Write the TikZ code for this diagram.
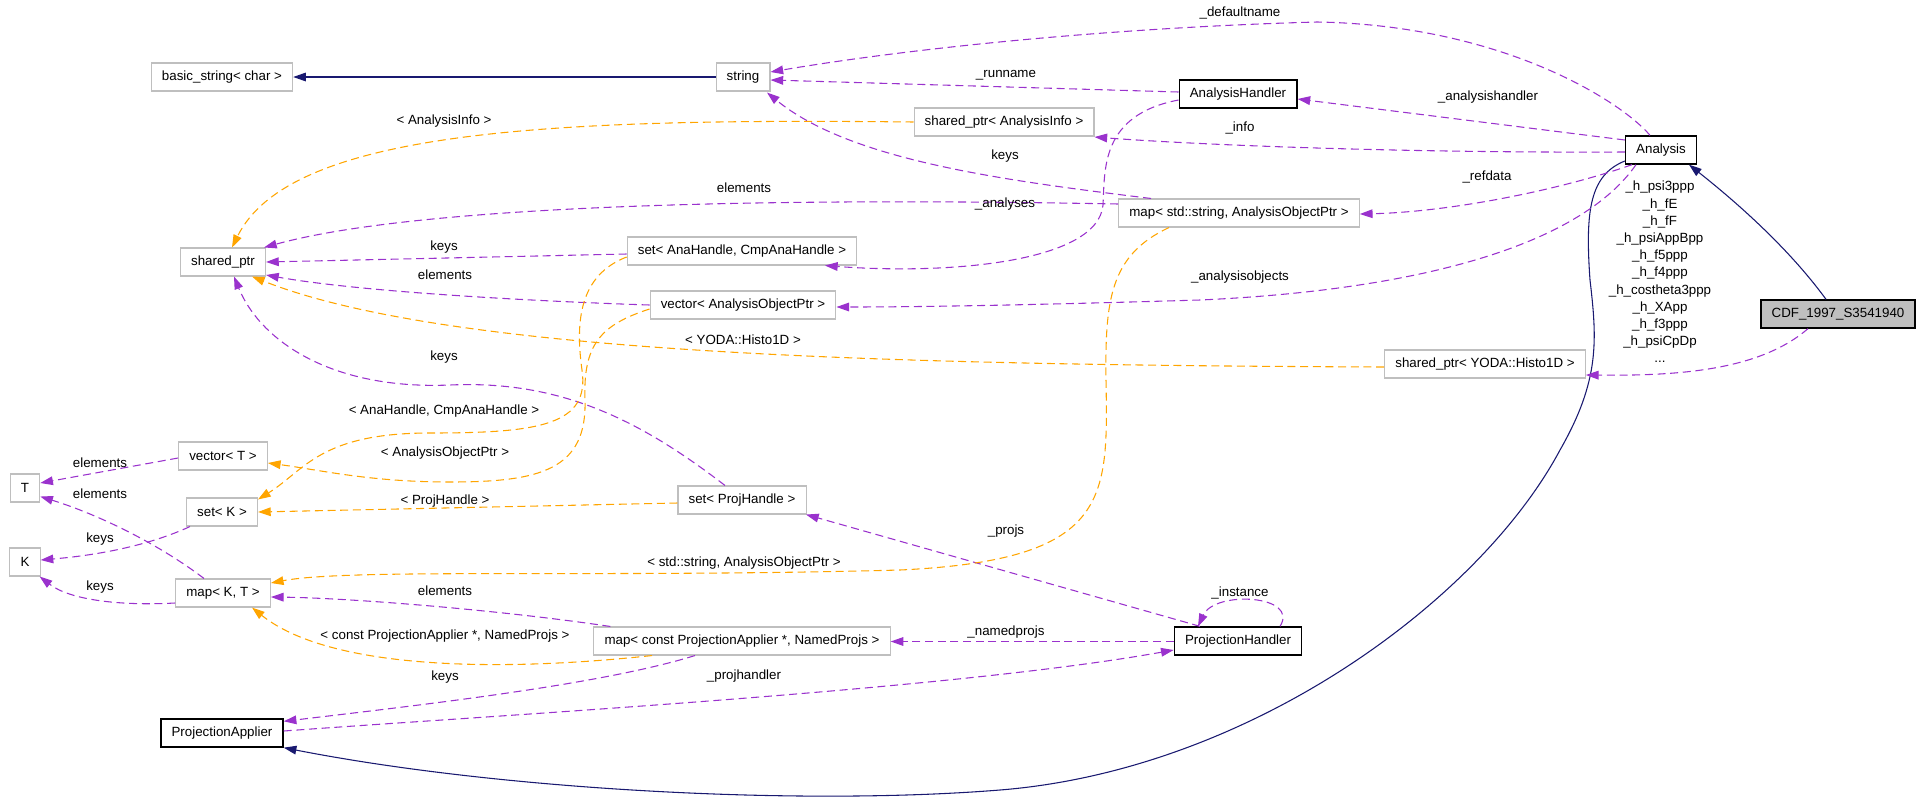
\documentclass[tikz,border=0pt]{standalone}
\usepackage{fontspec}
\setmainfont{Liberation Sans}
\usetikzlibrary{arrows.meta}
\definecolor{edgepurple}{HTML}{9A32CD}
\definecolor{edgeorange}{HTML}{FFA500}
\definecolor{edgenavy}{HTML}{191970}
\definecolor{boxgray}{HTML}{BFBFBF}

\begin{document}
\begin{tikzpicture}[x=0.75pt,y=-0.75pt,
	cls/.style={draw=boxgray,line width=0.8pt,inner xsep=8pt,inner ysep=0pt,minimum height=21pt,font=\fontsize{10}{12}\selectfont},
	main/.style={cls,draw=black,line width=1pt},
	cur/.style={main,fill=boxgray},
	lbl/.style={inner sep=0.5pt,font=\fontsize{10}{12}\selectfont},
	mem/.style={edgepurple,line width=0.8pt,dash pattern=on 6pt off 3.5pt,-{Triangle[length=9.5pt,width=6.5pt]}},
	tpl/.style={mem,edgeorange},
	inh/.style={edgenavy,line width=0.8pt,-{Triangle[length=9.5pt,width=6.5pt]}}]
	\useasboundingbox (0,0) rectangle (1920,800);

	% classes
	\node[cls] (bstr) at (222,77) {basic\_string< char >};
	\node[cls] (str) at (743,77) {string};
	\node[main] (ahandler) at (1238,94) {AnalysisHandler};
	\node[cls] (ainfo) at (1004,122) {shared\_ptr< AnalysisInfo >};
	\node[main] (ana) at (1661,150) {Analysis};
	\node[cls] (sptr) at (223,262) {shared\_ptr};
	\node[cls] (mapstr) at (1239,213) {map< std::string, AnalysisObjectPtr >};
	\node[cls] (setana) at (742,251) {set< AnaHandle, CmpAnaHandle >};
	\node[cls] (vecaop) at (743,305) {vector< AnalysisObjectPtr >};
	\node[cur,minimum width=114pt] (cdf) at (1838,314) {CDF\_1997\_S3541940};
	\node[cls] (histo) at (1485,364) {shared\_ptr< YODA::Histo1D >};
	\node[cls] (vect) at (223,456) {vector< T >};
	\node[cls] (T) at (25,488) {T};
	\node[cls] (setk) at (222,512) {set< K >};
	\node[cls] (setproj) at (742,500) {set< ProjHandle >};
	\node[cls] (K) at (25,562) {K};
	\node[cls] (mapkt) at (223,593) {map< K, T >};
	\node[cls] (mapconst) at (742,641) {map< const ProjectionApplier *, NamedProjs >};
	\node[main] (phandler) at (1238,641) {ProjectionHandler};
	\node[main] (papplier) at (222,733) {ProjectionApplier};

	% inheritance
	\draw[inh] (str.west) -- (bstr.east);
	\draw[inh] ([shift={(-12,0)}]cdf.north) .. controls (1790,250) and (1740,205) .. ([shift={(28,0)}]ana.south);
	\draw[inh] ([shift={(0,11)}]ana.west) .. controls (1590,175) and (1585,210) .. (1590,280)
		.. controls (1597,340) and (1600,380) .. (1560,450)
		.. controls (1480,600) and (1250,770) .. (1000,790)
		.. controls (800,806) and (500,790) .. (papplier.south east);

	% members
	\draw[mem] ([shift={(-11,0)}]ana.north) .. controls (1620,100) and (1500,25) .. (1317,22)
		.. controls (1100,28) and (900,50) .. ([shift={(0,-5)}]str.east);
	\draw[mem] ([shift={(0,-2)}]ahandler.west) -- ([shift={(0,3)}]str.east);
	\draw[mem] ([shift={(0,-10)}]ana.west) -- ([shift={(0,5)}]ahandler.east);
	\draw[mem] ([shift={(0,2)}]ana.west) .. controls (1400,153) and (1200,145) .. ([shift={(0,15)}]ainfo.east);
	\draw[mem] ([shift={(-88,0)}]mapstr.north) .. controls (1000,180) and (850,160) .. ([shift={(24,1)}]str.south);
	\draw[mem] ([shift={(0,-9)}]mapstr.west) .. controls (700,196) and (400,210) .. ([shift={(-2,0)}]sptr.north east);
	\draw[mem] ([shift={(0,6)}]ahandler.west) .. controls (1100,115) and (1105,170) .. (1103,205)
		.. controls (1098,262) and (950,275) .. ([shift={(83,0)}]setana.south);
	\draw[mem] ([shift={(0,3)}]setana.west) -- (sptr.east);
	\draw[mem] (vecaop.west) .. controls (500,300) and (350,290) .. ([shift={(0,13)}]sptr.east);
	\draw[mem] ([shift={(-29,0)}]ana.south) .. controls (1560,190) and (1450,212) .. ([shift={(0,1)}]mapstr.east);
	\draw[mem] ([shift={(-25,0)}]ana.south) .. controls (1580,245) and (1420,290) .. (1200,300)
		.. controls (1000,306) and (900,307) .. ([shift={(0,2)}]vecaop.east);
	\draw[mem] ([shift={(-30,0)}]cdf.south) .. controls (1760,370) and (1680,376) .. ([shift={(0,11)}]histo.east);
	\draw[mem] ([shift={(-38,0)}]phandler.north) -- ([shift={(64,0)}]setproj.south);
	\draw[mem] ([shift={(42,0)}]phandler.north) .. controls (1300,595) and (1215,590) .. ([shift={(-40,0)}]phandler.north);
	\draw[mem] ([shift={(0,0.5)}]phandler.west) -- ([shift={(0,0.5)}]mapconst.east);
	\draw[mem] ([shift={(0,-2)}]papplier.east) .. controls (500,715) and (950,690) .. ([shift={(0,9)}]phandler.west);
	\draw[mem] ([shift={(-47,0)}]mapconst.south) .. controls (600,685) and (420,705) .. ([shift={(0,3)}]papplier.north east);
	\draw[mem] ([shift={(17,0)}]mapconst.north west) .. controls (500,610) and (350,598) .. ([shift={(0,4)}]mapkt.east);
	\draw[mem] ([shift={(-17,0)}]setproj.north) .. controls (640,420) and (560,380) .. (450,385)
		.. controls (330,390) and (260,340) .. ([shift={(11,0)}]sptr.south);
	\draw[mem] ([shift={(0,2)}]vect.west) -- ([shift={(0,-5)}]T.east);
	\draw[mem] ([shift={(-19,0)}]mapkt.north) .. controls (160,545) and (100,515) .. ([shift={(0,-6)}]T.south east);
	\draw[mem] ([shift={(-32,0)}]setk.south) .. controls (150,545) and (100,555) .. ([shift={(0,-2)}]K.east);
	\draw[mem] ([shift={(0,10)}]mapkt.west) .. controls (120,606) and (70,600) .. ([shift={(-1,0)}]K.south east);

	% template arguments
	\draw[tpl] (ainfo.west) .. controls (550,118) and (290,130) .. ([shift={(9,0)}]sptr.north);
	\draw[tpl] ([shift={(0,3)}]histo.west) .. controls (900,365) and (450,355) .. ([shift={(29,0)}]sptr.south);
	\draw[tpl] ([shift={(-90,0)}]mapconst.south) .. controls (500,672) and (330,670) .. ([shift={(29,0)}]mapkt.south);
	\draw[tpl] ([shift={(-70,0)}]mapstr.south) .. controls (1110,255) and (1105,300) .. (1106,380)
		.. controls (1108,500) and (1110,560) .. (900,570)
		.. controls (600,578) and (350,568) .. ([shift={(0,-10)}]mapkt.east);
	\draw[tpl] ([shift={(0,6)}]setana.west) .. controls (580,275) and (575,320) .. (582,370)
		.. controls (590,425) and (540,433) .. (430,433)
		.. controls (320,433) and (305,470) .. ([shift={(0,2)}]setk.north east);
	\draw[tpl] ([shift={(0,4)}]vecaop.west) .. controls (600,325) and (583,345) .. (585,400)
		.. controls (587,470) and (540,482) .. (450,482)
		.. controls (370,482) and (320,470) .. ([shift={(0,7)}]vect.east);
	\draw[tpl] ([shift={(0,3)}]setproj.west) -- (setk.east);

	% edge labels
	\node[lbl] (ldefault) at (1240,13) {\_defaultname};
	\node[lbl] (lrun) at (1006,75) {\_runname};
	\node[lbl] (lahandler) at (1488,97) {\_analysishandler};
	\node[lbl] (linfo) at (1240,128) {\_info};
	\node[lbl] (lainfo) at (444,121) {< AnalysisInfo >};
	\node[lbl] (lkeysa) at (1005,156) {keys};
	\node[lbl] (lelema) at (744,188) {elements};
	\node[lbl] (lanalyses) at (1005,204) {\_analyses};
	\node[lbl] (lrefdata) at (1487,177) {\_refdata};
	\node[lbl] (lkeysb) at (444,247) {keys};
	\node[lbl] (lelemb) at (445,275) {elements};
	\node[lbl] (laobj) at (1240,277) {\_analysisobjects};
	\node[lbl] (lyoda) at (743,340) {< YODA::Histo1D >};
	\node[lbl] (lkeysc) at (444,357) {keys};
	\node[lbl] (lanah) at (444,411) {< AnaHandle, CmpAnaHandle >};
	\node[lbl] (laop) at (445,453) {< AnalysisObjectPtr >};
	\node[lbl] (lelemc) at (100,463) {elements};
	\node[lbl] (lelemd) at (100,494) {elements};
	\node[lbl] (lproj) at (445,501) {< ProjHandle >};
	\node[lbl] (lprojs) at (1006,531) {\_projs};
	\node[lbl] (lkeysd) at (100,539) {keys};
	\node[lbl] (lstdstr) at (744,563) {< std::string, AnalysisObjectPtr >};
	\node[lbl] (lkeyse) at (100,587) {keys};
	\node[lbl] (leleme) at (445,591) {elements};
	\node[lbl] (linst) at (1240,593) {\_instance};
	\node[lbl] (lnamed) at (1006,632) {\_namedprojs};
	\node[lbl] (lconst) at (445,636) {< const ProjectionApplier *, NamedProjs >};
	\node[lbl] (lkeysf) at (445,677) {keys};
	\node[lbl] (lphandler) at (744,676) {\_projhandler};
	\node[lbl,align=center,font=\fontsize{10}{12.9}\selectfont] (lhist) at (1660,272)
		{\_h\_psi3ppp\\\_h\_fE\\\_h\_fF\\\_h\_psiAppBpp\\\_h\_f5ppp\\\_h\_f4ppp\\\_h\_costheta3ppp\\\_h\_XApp\\\_h\_f3ppp\\\_h\_psiCpDp\\...};
\end{tikzpicture}
\end{document}
